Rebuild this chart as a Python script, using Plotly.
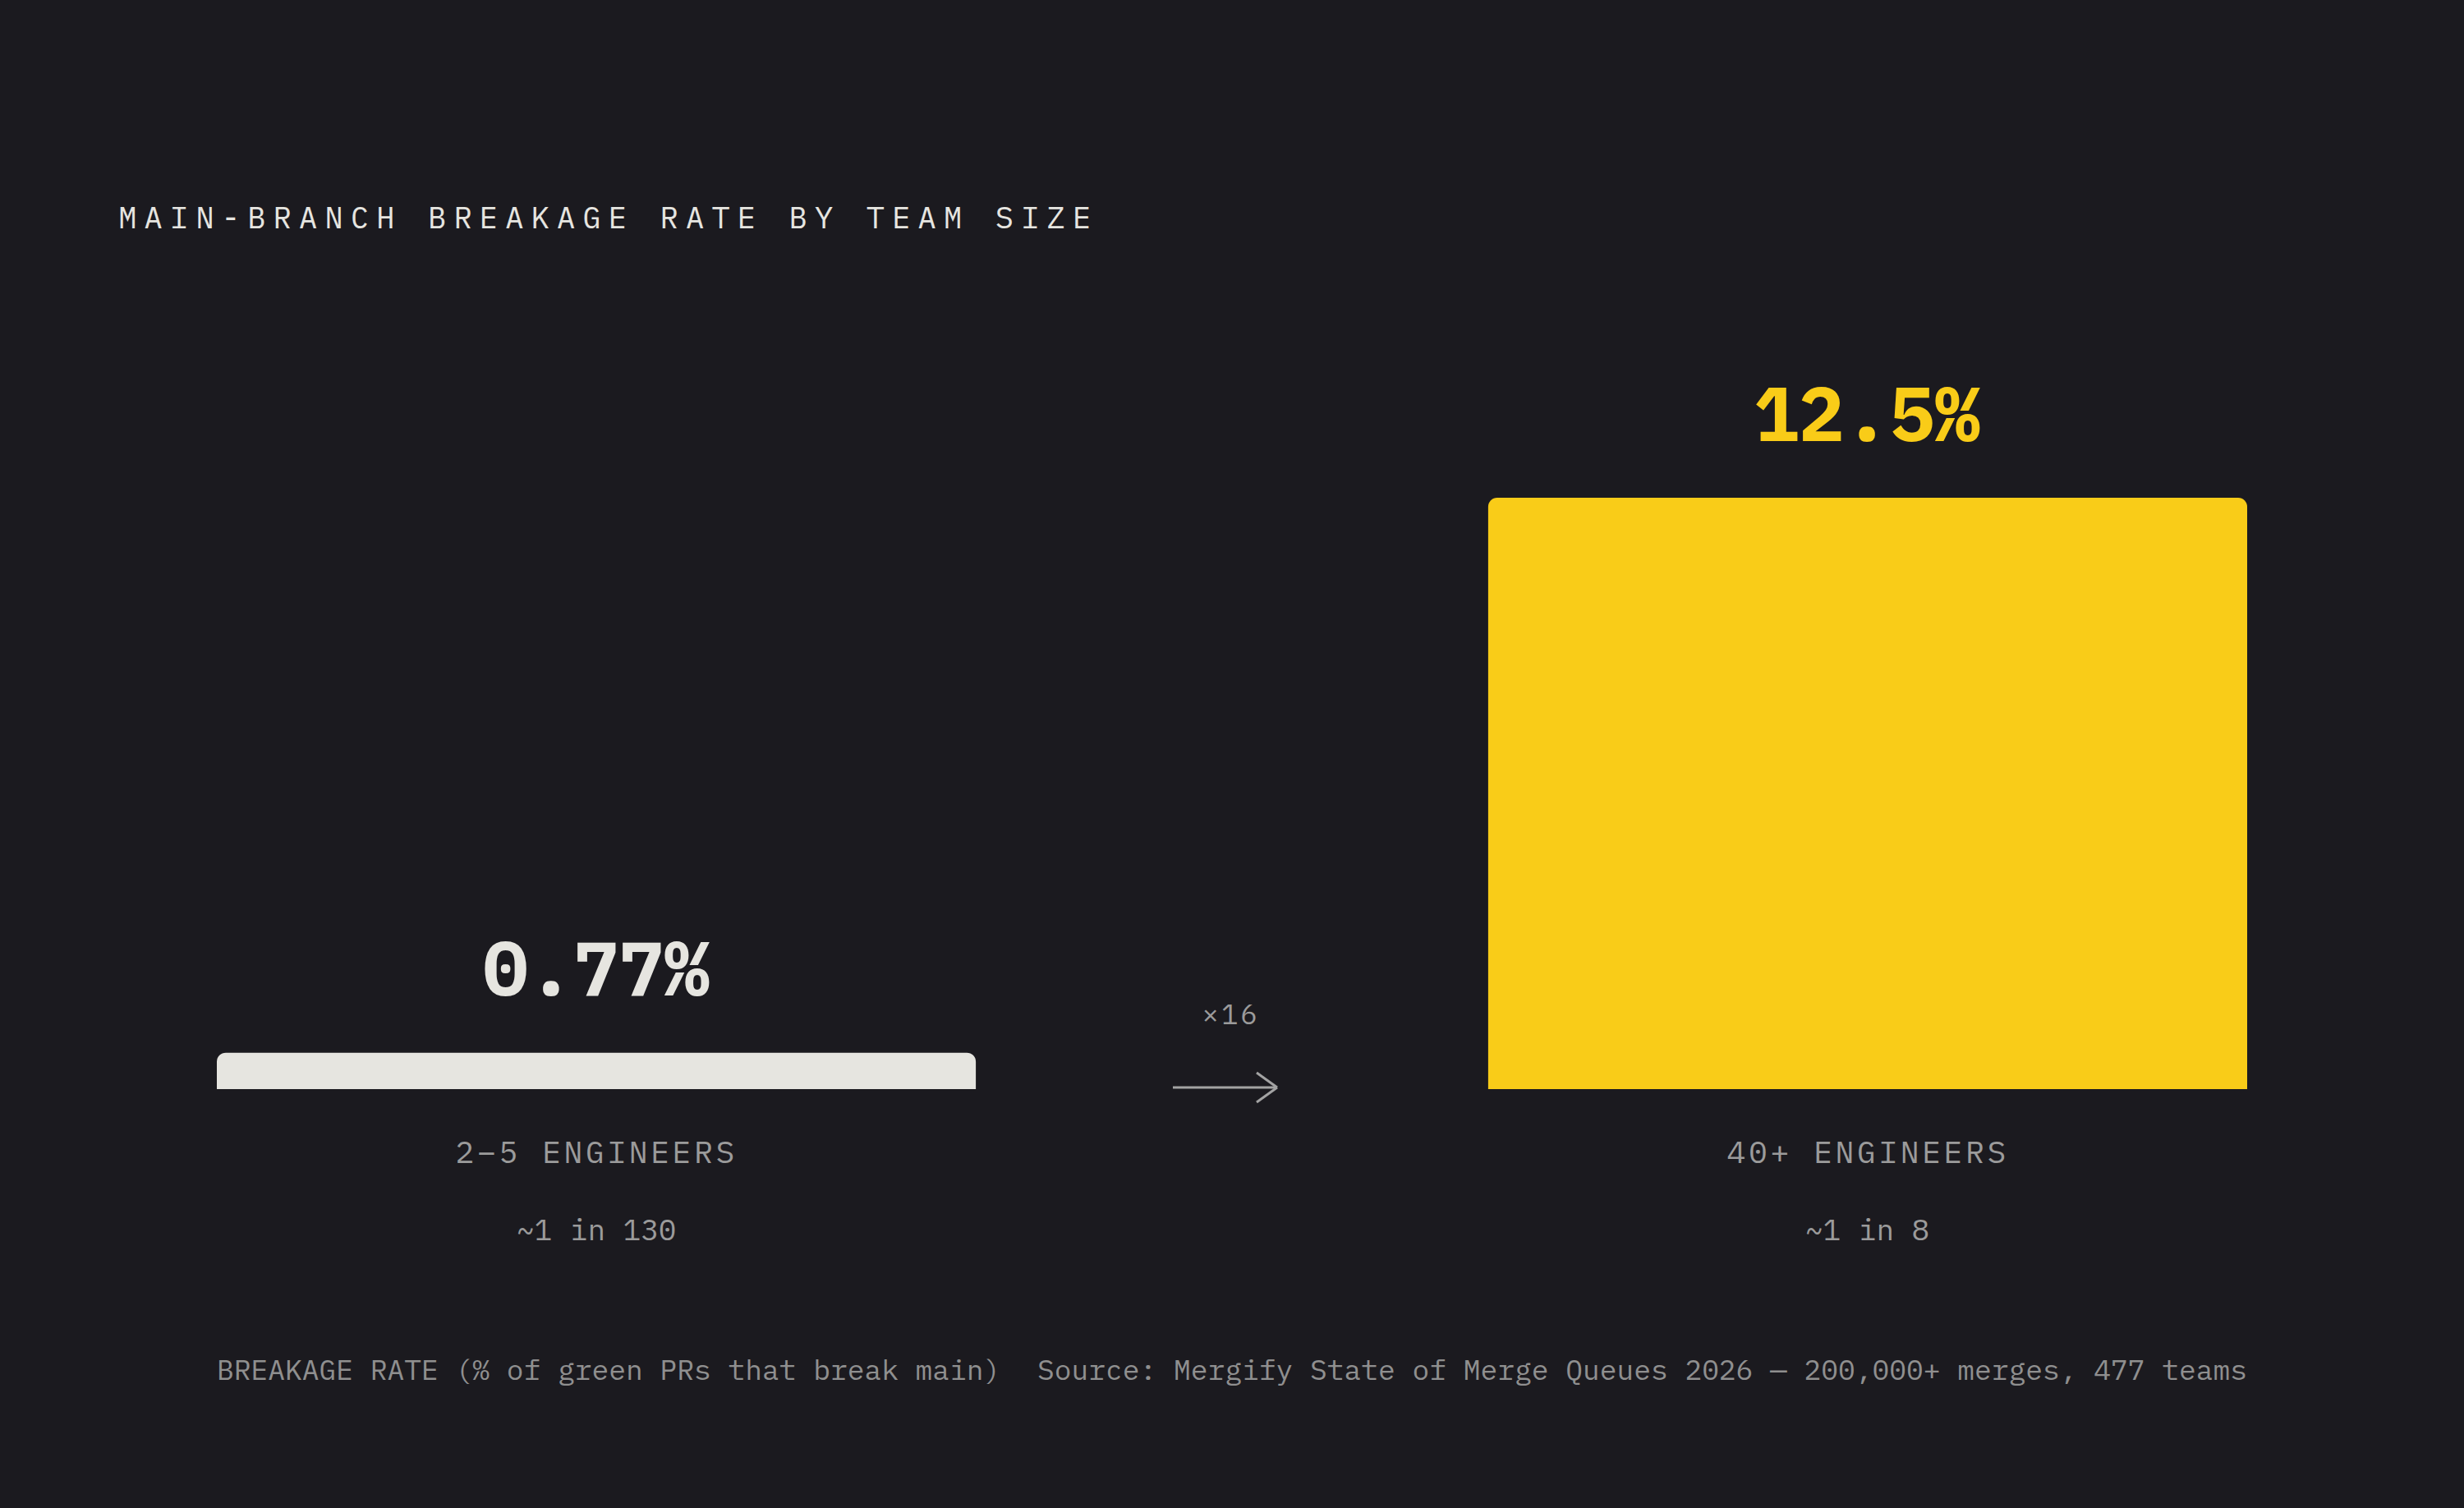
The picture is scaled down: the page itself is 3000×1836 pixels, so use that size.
import json
import plotly.graph_objects as go

# ---- data ----
categories = ["2–5 ENGINEERS", "40+ ENGINEERS"]
breakage_pct = [0.77, 12.5]
value_labels = ["0.77%", "12.5%"]
odds_labels = ["~1 in 130", "~1 in 8"]
title_text = "MAIN-BRANCH BREAKAGE RATE BY TEAM SIZE"
footer_left = "BREAKAGE RATE (% of green PRs that break main)"
footer_right = "Source: Mergify State of Merge Queues 2026 — 200,000+ merges, 477 teams"

# ---- style ----
BG = "#1b1a1f"
LIGHT = "#e6e5e0"
YELLOW = "#f9cc18"
GREY = "#9b9b9b"
GREY2 = "#8f8f8f"
FONT = "IBM Plex Mono, DejaVu Sans Mono, monospace"
bar_colors = [LIGHT, YELLOW]
value_colors = [LIGHT, YELLOW]

W, H = 3000, 1836
ML, MR, MT, MB = 264, 264, 606, 510
bar_w = 0.597
TITLE_LS = 9.2

ratio = round(breakage_pct[1] / breakage_pct[0])
ratio_text = f"×{ratio}"

fig = go.Figure()
fig.add_trace(go.Bar(
    x=categories, y=breakage_pct, width=bar_w,
    marker=dict(color=bar_colors, line=dict(width=0)),
    hoverinfo="skip", showlegend=False,
))

ann = []
# title (letter-spacing grows the centred svg text both ways; compensate)
ann.append(dict(text=title_text, xref="paper", yref="paper", x=0, y=1,
                xanchor="left", yanchor="middle",
                xshift=-122 + TITLE_LS * len(title_text) / 2, yshift=342,
                showarrow=False, font=dict(family=FONT, size=37, color=LIGHT)))
for i, cat in enumerate(categories):
    ann.append(dict(text=value_labels[i], x=cat, y=breakage_pct[i], xref="x", yref="y",
                    xanchor="center", yanchor="middle", yshift=104, showarrow=False,
                    font=dict(family=FONT, size=92, color=value_colors[i], weight="bold")))
    ann.append(dict(text=cat, x=cat, y=0, xref="x", yref="paper",
                    xanchor="center", yanchor="middle", yshift=-75, showarrow=False,
                    font=dict(family=FONT, size=38, color=GREY)))
    ann.append(dict(text=odds_labels[i], x=cat, y=0, xref="x", yref="paper",
                    xanchor="center", yanchor="middle", yshift=-170, showarrow=False,
                    font=dict(family=FONT, size=36, color=GREY)))

ann.append(dict(text=ratio_text, x=0.5, y=0, xref="x", yref="paper",
                xanchor="center", yanchor="middle", yshift=92, xshift=-2, showarrow=False,
                font=dict(family=FONT, size=34, color=GREY)))
ann.append(dict(text=footer_left, xref="paper", yref="paper", x=0, y=0,
                xanchor="left", yanchor="middle", yshift=-341, xshift=-2, showarrow=False,
                font=dict(family=FONT, size=34.6, color=GREY2)))
ann.append(dict(text=footer_right, xref="paper", yref="paper", x=1, y=0,
                xanchor="right", yanchor="middle", yshift=-341, xshift=2, showarrow=False,
                font=dict(family=FONT, size=34.6, color=GREY2)))

arrow_line = dict(color="#a3a3a3", width=3)
shapes = []
for (x0, y0, x1, y1) in [(-72, 2, 55, 2), (30, 20, 55, 2), (30, -16, 55, 2)]:
    shapes.append(dict(type="line", xref="x", yref="paper", xsizemode="pixel", ysizemode="pixel",
                       xanchor=0.5, yanchor=0, x0=x0, x1=x1, y0=y0, y1=y1, line=arrow_line))

fig.update_layout(
    width=W, height=H,
    margin=dict(l=ML, r=MR, t=MT, b=MB, pad=0),
    paper_bgcolor=BG, plot_bgcolor=BG,
    barcornerradius=11,
    annotations=ann, shapes=shapes,
    xaxis=dict(range=[-bar_w / 2, 1 + bar_w / 2], showgrid=False, zeroline=False,
               showticklabels=False, ticks="", showline=False, fixedrange=True),
    yaxis=dict(range=[0, max(breakage_pct)], showgrid=False, zeroline=False,
               showticklabels=False, ticks="", showline=False, fixedrange=True),
    showlegend=False,
)

spacing = {title_text: TITLE_LS, categories[0]: 3.6, categories[1]: 3.6, ratio_text: 3}
post = """
document.body.style.margin = '0';
document.body.style.overflow = 'hidden';
document.body.style.background = '%s';
var gd = document.getElementById('{plot_id}');
var SP = %s;
function applySpacing(){
  gd.querySelectorAll('.annotation-text').forEach(function(t){
    var s = SP[t.textContent];
    if (s !== undefined) { t.style.letterSpacing = s + 'px'; }
  });
}
applySpacing();
gd.on('plotly_afterplot', applySpacing);
""" % (BG, json.dumps(spacing, ensure_ascii=False))

fig.write_html("out.html", post_script=post, config={"displayModeBar": False})
